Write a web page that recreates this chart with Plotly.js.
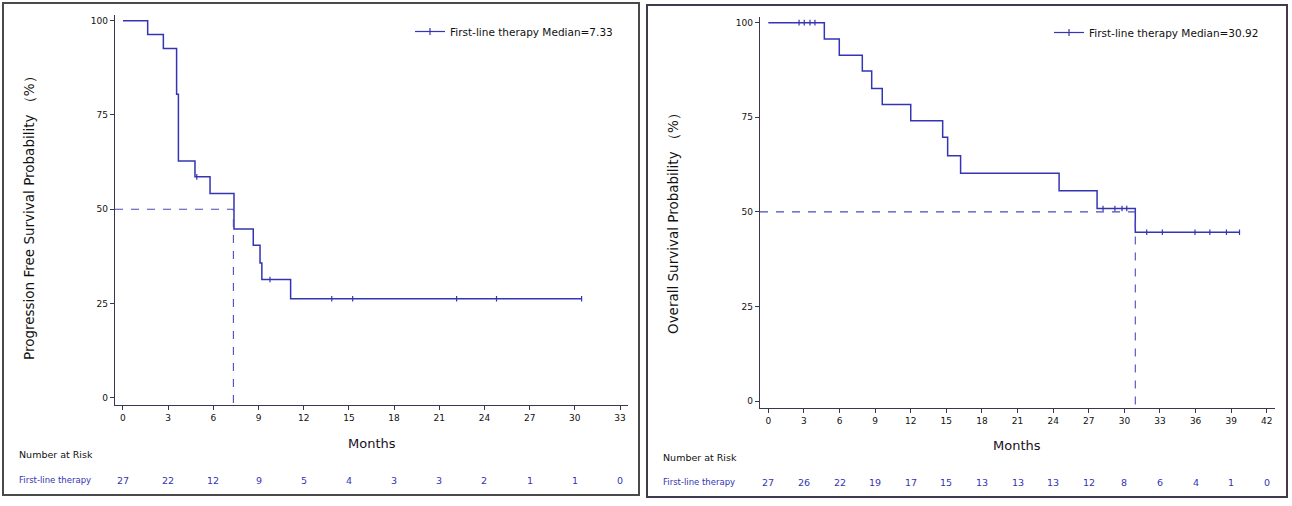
<!DOCTYPE html>
<html>
<head>
<meta charset="utf-8">
<script src="https://cdn.plot.ly/plotly-3.0.1.min.js"></script>
<style>html,body{margin:0;padding:0;background:#fff;}#chart{width:1292px;height:506px;}</style>
</head>
<body>
<div id="chart"></div>
<script>
// ---------- data ----------
const pfsTime = [0, 1.64, 2.68, 3.56, 3.68, 4.78, 5.78, 7.37, 8.65, 9.1, 9.22, 11.13, 30.45];
const pfsSurv = [100, 96.3, 92.6, 80.5, 62.8, 58.6, 54.2, 44.8, 40.5, 35.8, 31.4, 26.3, 26.3];
const pfsCensorTime = [4.9, 9.76, 13.86, 15.25, 22.15, 24.8, 30.45];
const pfsCensorSurv = [58.6, 31.4, 26.3, 26.3, 26.3, 26.3, 26.3];
const pfsMedian = 7.33;
const pfsRiskTimes = [0, 3, 6, 9, 12, 15, 18, 21, 24, 27, 30, 33];
const pfsRisk = [27, 22, 12, 9, 5, 4, 3, 3, 2, 1, 1, 0];

const osTime = [0, 4.72, 5.98, 7.92, 8.71, 9.6, 12.0, 14.69, 15.11, 16.2, 24.5, 27.7, 30.92, 39.7];
const osSurv = [100, 95.7, 91.4, 87.2, 82.6, 78.4, 74.1, 69.7, 64.8, 60.2, 55.6, 50.9, 44.6, 44.6];
const osCensorTime = [2.59, 3.03, 3.51, 3.93, 28.2, 29.2, 29.8, 30.2, 31.88, 33.2, 35.95, 37.2, 38.6, 39.7];
const osCensorSurv = [100, 100, 100, 100, 50.9, 50.9, 50.9, 50.9, 44.6, 44.6, 44.6, 44.6, 44.6, 44.6];
const osMedian = 30.92;
const osRiskTimes = [0, 3, 6, 9, 12, 15, 18, 21, 24, 27, 30, 33, 36, 39, 42];
const osRisk = [27, 26, 22, 19, 17, 15, 13, 13, 13, 12, 8, 6, 4, 1, 0];

const pfsLegend = "First-line therapy Median=7.33";
const osLegend = "First-line therapy Median=30.92";
const pfsYTitle = "Progression Free Survival Probability （%）";
const osYTitle = "Overall Survival Probability （%）";
const xTitle = "Months";
const riskTitle = "Number at Risk";
const groupName = "First-line therapy";
const yTicks = [0, 25, 50, 75, 100];

// ---------- styling ----------
const W = 1292, H = 506;
const px = v => v / W, py = v => 1 - v / H;
const blue = '#3434b4';
const dashBlue = '#4a4ac0';
const axisCol = '#3a3550';
const FONT = 'DejaVu Sans, Verdana, sans-serif';

const x1Range = [-0.53, 33.53], y1Range = [-1.86, 101.5];
const x2Range = [-0.70, 42.69], y2Range = [-1.77, 101.5];

const censorMarker = {symbol: 'line-ns-open', size: 4, color: blue, line: {color: blue, width: 1.2}};

const traces = [
  {x: pfsTime, y: pfsSurv, xaxis: 'x', yaxis: 'y', mode: 'lines', line: {shape: 'hv', color: blue, width: 1.5}, showlegend: false, hoverinfo: 'skip'},
  {x: pfsCensorTime, y: pfsCensorSurv, xaxis: 'x', yaxis: 'y', mode: 'markers', marker: censorMarker, showlegend: false, hoverinfo: 'skip'},
  {x: [x1Range[0], pfsMedian, pfsMedian], y: [50, 50, y1Range[0]], xaxis: 'x', yaxis: 'y', mode: 'lines', line: {color: dashBlue, width: 1.1, dash: '8px,8px'}, showlegend: false, hoverinfo: 'skip'},
  {x: [null], y: [null], xaxis: 'x', yaxis: 'y', mode: 'lines+markers', name: pfsLegend, line: {color: blue, width: 1.2}, marker: {symbol: 'line-ns-open', size: 5, color: blue, line: {color: blue, width: 1.2}}, legend: 'legend'},

  {x: osTime, y: osSurv, xaxis: 'x2', yaxis: 'y2', mode: 'lines', line: {shape: 'hv', color: blue, width: 1.5}, showlegend: false, hoverinfo: 'skip'},
  {x: osCensorTime, y: osCensorSurv, xaxis: 'x2', yaxis: 'y2', mode: 'markers', marker: censorMarker, showlegend: false, hoverinfo: 'skip'},
  {x: [x2Range[0], osMedian, osMedian], y: [50, 50, y2Range[0]], xaxis: 'x2', yaxis: 'y2', mode: 'lines', line: {color: dashBlue, width: 1.1, dash: '8px,8px'}, showlegend: false, hoverinfo: 'skip'},
  {x: [null], y: [null], xaxis: 'x2', yaxis: 'y2', mode: 'lines+markers', name: osLegend, line: {color: blue, width: 1.2}, marker: {symbol: 'line-ns-open', size: 5, color: blue, line: {color: blue, width: 1.2}}, legend: 'legend2'}
];

const axBase = {
  showline: true, linecolor: axisCol, linewidth: 1.3, mirror: false,
  ticks: 'outside', ticklen: 4, tickwidth: 1, tickcolor: axisCol,
  showgrid: false, zeroline: false, fixedrange: true,
  tickfont: {family: FONT, size: 9, color: '#111'}
};

const annotations = [];
function addText(x, y, text, opts) {
  annotations.push(Object.assign({x: x, y: y, xref: 'paper', yref: 'paper', text: text, showarrow: false,
    xanchor: 'center', yanchor: 'middle', font: {family: FONT, size: 10, color: '#111'}}, opts || {}));
}
// y titles
addText(px(29), py(215), pfsYTitle, {textangle: -90, font: {family: FONT, size: 13.5, color: '#111'}});
addText(px(673), py(220), osYTitle, {textangle: -90, font: {family: FONT, size: 13.5, color: '#111'}});
// x titles
addText(px(372), py(443), xTitle, {font: {family: FONT, size: 13, color: '#1a0f1f'}});
addText(px(1017), py(445), xTitle, {font: {family: FONT, size: 13, color: '#1a0f1f'}});
// risk table headings
addText(px(17), py(454), riskTitle, {xanchor: 'left', font: {family: FONT, size: 9.5, color: '#111'}});
addText(px(17), py(480), groupName, {xanchor: 'left', font: {family: FONT, size: 8.5, color: blue}});
addText(px(661), py(457), riskTitle, {xanchor: 'left', font: {family: FONT, size: 9.5, color: '#111'}});
addText(px(661), py(482), groupName, {xanchor: 'left', font: {family: FONT, size: 8.5, color: blue}});
// risk numbers
pfsRiskTimes.forEach((t, i) => annotations.push({x: t, y: py(480), xref: 'x', yref: 'paper', text: String(pfsRisk[i]), showarrow: false, xanchor: 'center', yanchor: 'middle', font: {family: FONT, size: 9.5, color: blue}}));
osRiskTimes.forEach((t, i) => annotations.push({x: t, y: py(482), xref: 'x2', yref: 'paper', text: String(osRisk[i]), showarrow: false, xanchor: 'center', yanchor: 'middle', font: {family: FONT, size: 9.5, color: blue}}));

const layout = {
  width: W, height: H,
  margin: {l: 0, r: 0, t: 0, b: 0, pad: 0},
  paper_bgcolor: '#ffffff', plot_bgcolor: '#ffffff',
  xaxis: Object.assign({}, axBase, {domain: [px(115), px(628)], range: x1Range, tickmode: 'linear', tick0: 0, dtick: 3, anchor: 'y'}),
  yaxis: Object.assign({}, axBase, {domain: [py(405), py(15)], range: y1Range, tickmode: 'array', tickvals: yTicks, anchor: 'x'}),
  xaxis2: Object.assign({}, axBase, {domain: [px(760), px(1275)], range: x2Range, tickmode: 'linear', tick0: 0, dtick: 3, anchor: 'y2'}),
  yaxis2: Object.assign({}, axBase, {domain: [py(407.7), py(17)], range: y2Range, tickmode: 'array', tickvals: yTicks, anchor: 'x2'}),
  legend: {x: px(618), y: py(17), xanchor: 'right', yanchor: 'top', bgcolor: 'rgba(0,0,0,0)', font: {family: FONT, size: 10.5, color: '#111'}, itemwidth: 30},
  legend2: {x: px(1264), y: py(18), xanchor: 'right', yanchor: 'top', bgcolor: 'rgba(0,0,0,0)', font: {family: FONT, size: 10.5, color: '#111'}, itemwidth: 30},
  shapes: [
    {type: 'rect', xref: 'paper', yref: 'paper', x0: px(3), x1: px(639), y0: py(495), y1: py(3), line: {color: '#4a4a4a', width: 2}},
    {type: 'rect', xref: 'paper', yref: 'paper', x0: px(647), x1: px(1287), y0: py(497), y1: py(5), line: {color: '#3f3a4f', width: 2}}
  ],
  annotations: annotations,
  showlegend: true
};

Plotly.newPlot('chart', traces, layout, {displayModeBar: false, staticPlot: true});
</script>
</body>
</html>
